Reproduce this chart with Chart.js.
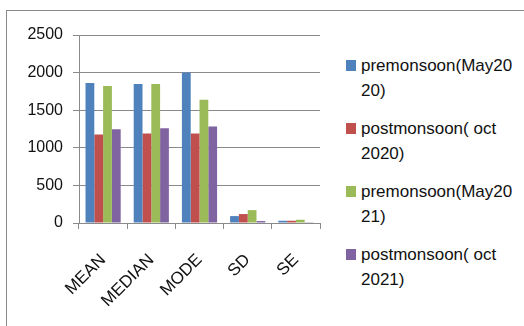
<!DOCTYPE html>
<html>
<head>
<meta charset="utf-8">
<script src="https://cdn.jsdelivr.net/npm/chart.js@4/dist/chart.umd.min.js"></script>
<style>
  html, body { margin: 0; padding: 0; background: #fff; }
  body { width: 524px; height: 326px; position: relative; overflow: hidden; font-family: "Liberation Sans", Arial, sans-serif; }
  #frame { position: absolute; left: 6px; top: 10px; width: 600px; height: 400px; border: 1px solid #8a8a8a; box-sizing: border-box; }
  #wrap { position: absolute; left: 0; top: 0; width: 324px; height: 326px; }
  #legend { position: absolute; left: 346px; top: 53px; font-size: 17px; color: #111; }
  .item { position: relative; padding-left: 15px; line-height: 25px; margin-bottom: 13px; white-space: pre; }
  .sw { position: absolute; left: 0; top: 7px; width: 10px; height: 11px; }
</style>
</head>
<body>
<div id="frame"></div>
<div id="wrap"><canvas id="c"></canvas></div>
<div id="legend"></div>
<script>
// Statistics for each sampling campaign
const categories = ["MEAN", "MEDIAN", "MODE", "SD", "SE"];
const seriesNames = [
  ["premonsoon(May20", "20)"],
  ["postmonsoon( oct", "2020)"],
  ["premonsoon(May20", "21)"],
  ["postmonsoon( oct", "2021)"]
];
const premonsoon2020 = [1863, 1850, 2000, 92, 30];
const postmonsoon2020 = [1177, 1190, 1190, 119, 30];
const premonsoon2021 = [1823, 1850, 1639, 171, 43];
const postmonsoon2021 = [1247, 1261, 1283, 26, 3];
const yTicks = [0, 500, 1000, 1500, 2000, 2500];
const colors = ["#4F81BD", "#C0504D", "#9BBB59", "#8064A2"];

const seriesValues = [premonsoon2020, postmonsoon2020, premonsoon2021, postmonsoon2021];
const datasets = seriesValues.map((vals, i) => ({
  label: seriesNames[i].join(""),
  data: vals,
  backgroundColor: colors[i],
  borderWidth: 0,
  categoryPercentage: 0.73,
  barPercentage: 1.0
}));

const family = "'Liberation Sans', Arial, sans-serif";

new Chart(document.getElementById("c"), {
  type: "bar",
  data: { labels: categories, datasets },
  options: {
    responsive: true,
    maintainAspectRatio: false,
    animation: false,
    layout: { padding: { top: 35, right: 4, left: 0, bottom: 0 } },
    plugins: { legend: { display: false }, tooltip: { enabled: false } },
    scales: {
      x: {
        afterFit: s => { s.height = 103; s.paddingLeft = 0; s.paddingRight = 0; },
        grid: { offset: true, drawOnChartArea: false, drawTicks: true, tickLength: 6, color: "#8a8a8a" },
        border: { color: "#8a8a8a" },
        ticks: { font: { family, size: 17 }, color: "#111", minRotation: 45, maxRotation: 45, padding: 21 }
      },
      y: {
        min: 0, max: 2500,
        afterFit: s => { s.width = 79; },
        afterBuildTicks: s => { s.ticks = yTicks.map(v => ({ value: v })); },
        grid: { color: "#8a8a8a", drawTicks: true, tickLength: 6 },
        border: { color: "#8a8a8a" },
        ticks: { font: { family, size: 16 }, color: "#111", padding: 10, callback: v => String(v) }
      }
    }
  }
});

// Legend with wrapped series names
const legend = document.getElementById("legend");
seriesNames.forEach((lines, i) => {
  const item = document.createElement("div");
  item.className = "item";
  const sw = document.createElement("span");
  sw.className = "sw";
  sw.style.background = colors[i];
  item.appendChild(sw);
  item.appendChild(document.createTextNode(lines.join("\n")));
  legend.appendChild(item);
});
</script>
</body>
</html>
